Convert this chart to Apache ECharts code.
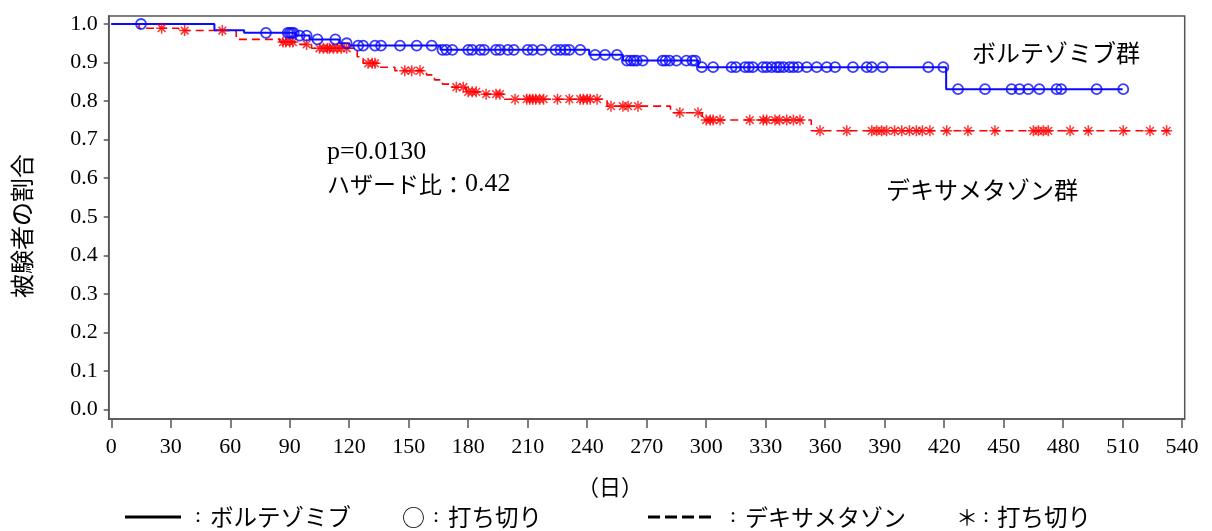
<!DOCTYPE html>
<html>
<head>
<meta charset="utf-8">
<script src="https://cdn.jsdelivr.net/npm/echarts@6/dist/echarts.min.js"></script>
<style>
html,body{margin:0;padding:0;background:#fff;}
#chart{width:1212px;height:531px;}
</style>
</head>
<body>
<div id="chart"></div>
<script>
// ---- data ----
var xTicks = [0,30,60,90,120,150,180,210,240,270,300,330,360,390,420,450,480,510,540];
var yTicks = [0,0.1,0.2,0.3,0.4,0.5,0.6,0.7,0.8,0.9,1.0];

// Kaplan-Meier steps [day, proportion] : bortezomib
var bortezomibSteps = [[0,1.0],[52,0.984],[67,0.977],[93,0.970],[100,0.960],[115,0.950],[120,0.944],[166,0.933],[241,0.920],[258,0.905],[296,0.888],[421,0.831],[510,0.831]];
// censor days : bortezomib
var bortezomibCensor = [15,78,89,90,91,92,95,98.5,104,113,118.7,124.5,127,133,136,145.6,154,161.6,167,169,172,180,182,186,188,194,196,200,203,210,212.5,217,224,226.5,229,231,236.5,244,249,255,260,262,263.5,265,268,278,279.5,281.5,285,290,293,294.5,297.8,303.5,312.8,315,319.6,321.5,323.5,328.6,330.5,333,335.5,337,339,342,344,346.3,350.7,355.7,360.8,365,374,381,383.5,389,412,419.6,427,440.6,454,458,462.4,468,476.7,479,496.9,510.3];

// Kaplan-Meier steps : dexamethasone
var dexaSteps = [[0,1.0],[14,0.989],[34,0.983],[63,0.960],[85,0.953],[95,0.947],[101,0.937],[124,0.915],[127,0.898],[135,0.888],[143,0.879],[159,0.868],[163,0.855],[167,0.844],[172,0.836],[179,0.824],[186,0.818],[198,0.805],[250,0.787],[282,0.770],[298,0.751],[353,0.723],[534,0.723]];
// censor days : dexamethasone
var dexaCensor = [25.4,37,56,86.6,88,90,91.6,98.5,105,107,109,110,112,114,116,118.7,129.5,131.6,133,148,151.5,155.7,174,177.5,180,182,184,189,194,196,203.6,209.5,211,212.5,214,216,218,225,231,236.5,238,240,241.5,245,252,258,260.6,265.6,286.7,295.9,300,302,303.5,307,322,328.8,330.5,334.7,337,340.6,344,347.3,357.4,370.9,383.5,386,388.5,391,395,398.6,402.5,406,409,412.8,421.3,432,445.6,465,467.5,470,472.5,483.5,492.7,510.3,523.8,532.2];

var texts = {
  yTitle: '被験者の割合',
  xTitle: '（日）',
  pValue: 'p=0.0130',
  hazardLabel: 'ハザード比：',
  hazardValue: '0.42',
  groupA: 'ボルテゾミブ群',
  groupB: 'デキサメタゾン群',
  colon: ':',
  legA: 'ボルテゾミブ',
  circle: '○',
  cens: '打ち切り',
  legB: 'デキサメタゾン',
  star: '＊'
};

// ---- helpers ----
function stepValue(steps, day){
  var v = steps[0][1];
  for (var i=0;i<steps.length;i++){ if (steps[i][0] <= day) v = steps[i][1]; }
  return v;
}
function censorPoints(steps, days){
  return days.map(function(d){ return [d, stepValue(steps, d)]; });
}

var serif = '"Liberation Serif", "Times New Roman", serif';
var jp = '"Noto Sans CJK JP", sans-serif';
var asterisk = 'path://M-5,0L5,0M0,-5L0,5M-3.5,-3.5L3.5,3.5M-3.5,3.5L3.5,-3.5';

function t(x, y, text, font, align){
  return {type:'text', x:x, y:y,
    style:{text:text, font:font, fill:'#000', align:align||'left', verticalAlign:'middle'}};
}

var chart = echarts.init(document.getElementById('chart'), null, {renderer:'canvas'});
chart.setOption({
  animation: false,
  backgroundColor: '#fff',
  grid: {left:108.7, right:27.3, top:16, bottom:112, show:true, borderColor:'#555', borderWidth:1.5, containLabel:false},
  xAxis: {
    type:'value', min:-1.3, max:541.3,
    axisLine:{show:true, onZero:false, lineStyle:{color:'#555', width:1.5}},
    axisTick:{show:true, length:9, customValues:xTicks, lineStyle:{color:'#555', width:1.5}},
    axisLabel:{show:true, customValues:xTicks, color:'#000', fontFamily:serif, fontSize:22, margin:17},
    splitLine:{show:false}
  },
  yAxis: {
    type:'value', min:-0.0243, max:1.0207,
    axisLine:{show:true, onZero:false, lineStyle:{color:'#555', width:1.5}},
    axisTick:{show:true, length:5, customValues:yTicks, lineStyle:{color:'#555', width:1.5}},
    axisLabel:{show:true, customValues:yTicks, color:'#000', fontFamily:serif, fontSize:22, margin:11,
      formatter:function(v){ return v.toFixed(1); }},
    splitLine:{show:false}
  },
  series: [
    {type:'line', step:'end', data:dexaSteps, symbol:'none', z:2,
     lineStyle:{color:'#ff0000', width:1.6, type:[8,5]}},
    {type:'line', step:'end', data:bortezomibSteps, symbol:'none', z:3,
     lineStyle:{color:'#0a0aff', width:2}},
    {type:'scatter', data:censorPoints(dexaSteps, dexaCensor), symbol:asterisk, symbolSize:11, z:4,
     itemStyle:{color:'rgba(0,0,0,0)', borderColor:'#ff0000', borderWidth:1.5}},
    {type:'scatter', data:censorPoints(bortezomibSteps, bortezomibCensor), symbol:'circle', symbolSize:10, z:5,
     itemStyle:{color:'rgba(0,0,0,0)', borderColor:'#0a0aff', borderWidth:1.8}}
  ],
  graphic: [
    {type:'text', x:22, y:226, rotation:Math.PI/2,
     style:{text:texts.yTitle, font:'24px '+jp, fill:'#000', align:'center', verticalAlign:'middle'}},
    t(610, 487, texts.xTitle, '22px '+jp, 'center'),
    t(327, 152, texts.pValue, '26px '+serif),
    {type:'text', x:327, y:184,
     style:{text:'{a|'+texts.hazardLabel+'}{b|'+texts.hazardValue+'}', fill:'#000', align:'left', verticalAlign:'middle',
       rich:{a:{font:'23px '+jp, fill:'#000'}, b:{font:'26px '+serif, fill:'#000'}}}},
    t(972, 53, texts.groupA, '24px '+jp),
    t(886, 190, texts.groupB, '24px '+jp),
    {type:'line', shape:{x1:125, y1:517, x2:181, y2:517}, style:{stroke:'#000', lineWidth:3}},
    t(198, 516, texts.colon, '22px '+serif, 'center'),
    t(210, 517, texts.legA, '23.5px '+jp),
    t(402, 517, texts.circle, '23px '+jp),
    t(436, 516, texts.colon, '22px '+serif, 'center'),
    t(448, 517, texts.cens, '23.5px '+jp),
    {type:'line', shape:{x1:648, y1:517, x2:716, y2:517}, style:{stroke:'#000', lineWidth:3, lineDash:[12,5]}},
    t(733, 516, texts.colon, '22px '+serif, 'center'),
    t(745, 517, texts.legB, '23px '+jp),
    t(956, 517, texts.star, '22px '+jp),
    t(986, 516, texts.colon, '22px '+serif, 'center'),
    t(997, 517, texts.cens, '23.5px '+jp)
  ]
});
</script>
</body>
</html>
